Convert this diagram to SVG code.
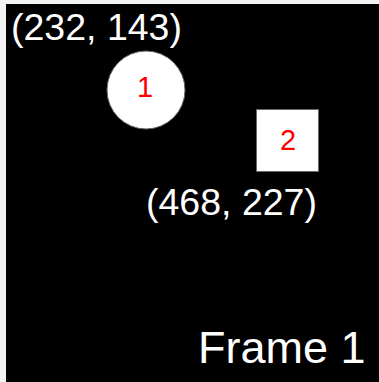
<svg xmlns="http://www.w3.org/2000/svg" width="379" height="382" viewBox="0 0 379 382">
  <style>
    .label { font-family: "Liberation Sans", Arial, sans-serif; fill: #ffffff; }
    .num { font-family: "Liberation Sans", Arial, sans-serif; fill: #ff0000; font-size: 29px; text-anchor: middle; }
    .shape { fill: #ffffff; stroke: #666666; stroke-width: 1; }
  </style>
  <rect x="0" y="0" width="379" height="382" fill="#f2f2f2"/>
  <rect x="6" y="4" width="373" height="378" fill="#000000"/>

  <g id="node-1">
    <circle class="shape" cx="146" cy="90" r="39"/>
    <text class="num" x="145" y="97">1</text>
  </g>
  <g id="node-2">
    <rect class="shape" x="256.5" y="109.5" width="62" height="62"/>
    <text class="num" x="288" y="150">2</text>
  </g>
  <g id="connectors"></g>

  <text class="label" x="11" y="40" font-size="37.5">(232, 143)</text>
  <text class="label" x="146" y="215" font-size="37.5">(468, 227)</text>
  <text class="label" x="198" y="363" font-size="45">Frame 1</text>
</svg>
